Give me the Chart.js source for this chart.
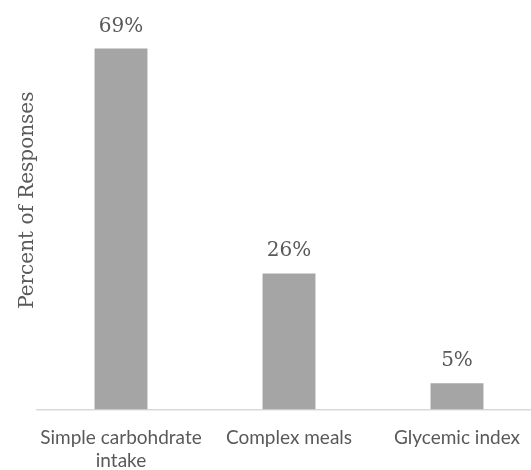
<!DOCTYPE html>
<html>
<head>
<meta charset="utf-8">
<script src="https://cdn.jsdelivr.net/npm/chart.js@4.4.1/dist/chart.umd.min.js"></script>
<style>
  html, body { margin: 0; padding: 0; background: #ffffff; overflow: hidden; width: 531px; height: 470px; }
  #wrap { position: absolute; left: 0; top: -9px; width: 541px; height: 499px; }
</style>
</head>
<body>
<div id="wrap"><canvas id="chart"></canvas></div>
<script>
// Survey results: share of responses per topic
const categories = [["Simple carbohdrate", "intake"], "Complex meals", "Glycemic index"];
const percentResponses = [69, 26, 5];
const yAxisTitle = "Percent of Responses";
const yMin = 0;
const yMax = 80;

const textGray = "#595959";
const barGray = "#A5A5A5";
const axisGray = "#D9D9D9";

// Writes each bar's value as a percentage just above the bar
const valueLabels = {
  id: "valueLabels",
  afterDatasetsDraw(chart) {
    const ctx = chart.ctx;
    const meta = chart.getDatasetMeta(0);
    ctx.save();
    ctx.font = "20px 'DejaVu Serif'";
    ctx.fillStyle = textGray;
    ctx.textAlign = "center";
    ctx.textBaseline = "alphabetic";
    meta.data.forEach((bar, i) => {
      ctx.fillText(percentResponses[i] + "%", bar.x, bar.y - 17);
    });
    ctx.restore();
  }
};

new Chart(document.getElementById("chart"), {
  type: "bar",
  data: {
    labels: categories,
    datasets: [{
      data: percentResponses,
      backgroundColor: barGray,
      borderWidth: 0,
      barPercentage: 0.315,
      categoryPercentage: 1
    }]
  },
  options: {
    responsive: true,
    maintainAspectRatio: false,
    animation: false,
    events: [],
    layout: { padding: { top: 0, right: 0, bottom: 1, left: 0 } },
    plugins: {
      legend: { display: false },
      tooltip: { enabled: false },
      title: { display: false }
    },
    scales: {
      x: {
        grid: { display: false, drawTicks: false },
        border: { display: true, color: axisGray, width: 1.5 },
        ticks: {
          color: textGray,
          padding: 17,
          maxRotation: 0,
          autoSkip: false,
          font: { family: "Lato", size: 19 }
        }
      },
      y: {
        min: yMin,
        max: yMax,
        grid: { display: false, drawTicks: false },
        border: { display: false },
        ticks: { display: false },
        title: {
          display: true,
          text: yAxisTitle,
          color: textGray,
          font: { family: "DejaVu Serif", size: 20 },
          padding: { top: 16, bottom: -3 }
        }
      }
    }
  },
  plugins: [valueLabels]
});
</script>
</body>
</html>
